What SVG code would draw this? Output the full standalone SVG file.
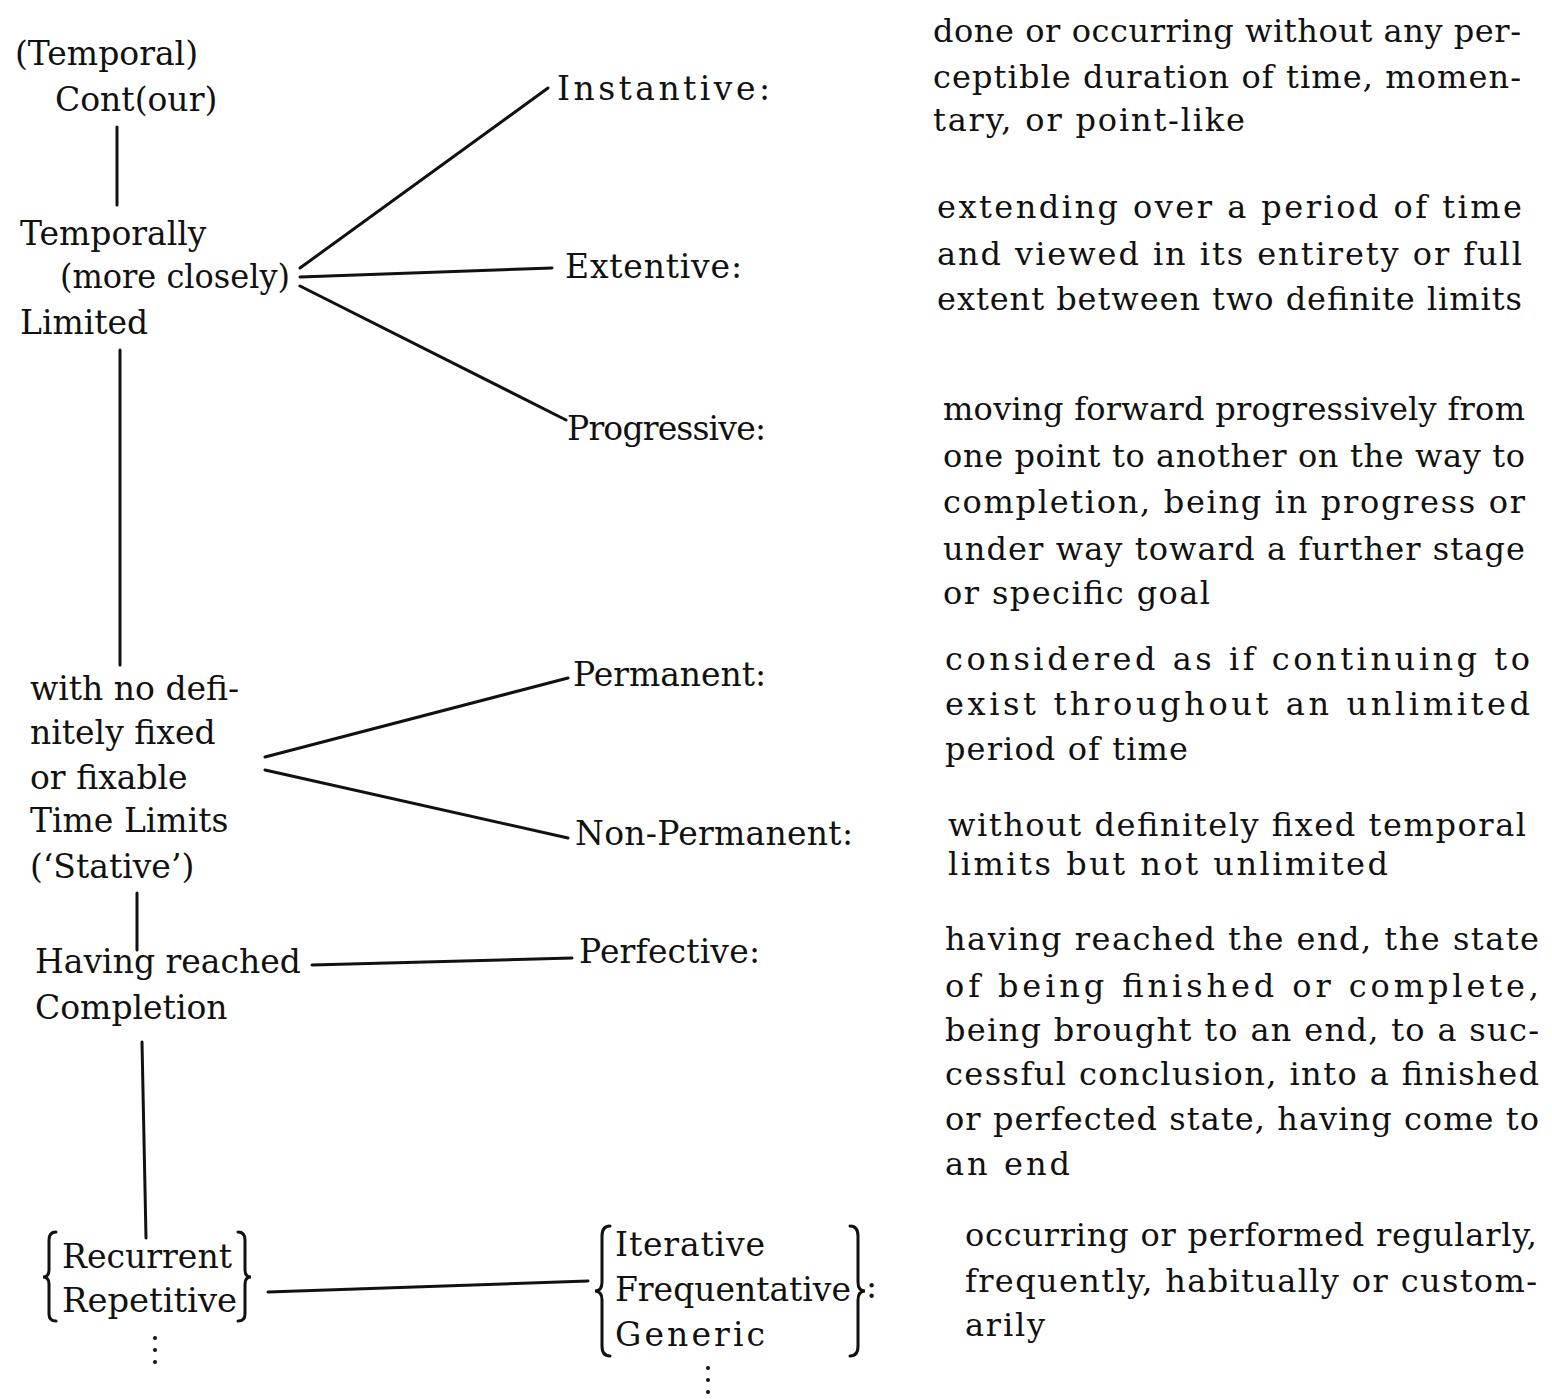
<svg xmlns="http://www.w3.org/2000/svg" width="1552" height="1399" viewBox="0 0 1552 1399">
<style>
text{font-family:"DejaVu Serif","Liberation Serif",serif;font-size:33px;fill:#111}
.c line,.c path{stroke:#111;stroke-width:3;fill:none;stroke-linecap:round}
.d text{font-size:32px}
.dot{fill:#111}
</style>
<rect width="1552" height="1399" fill="#fff"/>
<g class="c" id="connectors">
<line x1="117" y1="127" x2="117" y2="205"/>
<line x1="120" y1="350" x2="120" y2="665"/>
<line x1="137" y1="893" x2="137" y2="950"/>
<line x1="142" y1="1042" x2="146" y2="1238"/>
<line x1="300" y1="268" x2="548" y2="88"/>
<line x1="300" y1="277" x2="552" y2="268"/>
<line x1="300" y1="286" x2="566" y2="420"/>
<line x1="265" y1="757" x2="568" y2="678"/>
<line x1="265" y1="770" x2="568" y2="838"/>
<line x1="312" y1="965" x2="572" y2="958"/>
<line x1="268" y1="1292" x2="588" y2="1281"/>
</g>
<g id="n-contour">
<text x="15" y="65">(Temporal)</text>
<text x="55" y="111">Cont(our)</text>
</g>
<g id="n-limited">
<text x="20" y="245">Temporally</text>
<text x="60" y="288" textLength="230" lengthAdjust="spacingAndGlyphs">(more closely)</text>
<text x="20" y="334">Limited</text>
</g>
<g id="n-stative">
<text x="30" y="700">with no defi-</text>
<text x="30" y="744">nitely fixed</text>
<text x="30" y="789">or fixable</text>
<text x="30" y="832">Time Limits</text>
<text x="30" y="878">(‘Stative’)</text>
</g>
<g id="n-completion">
<text x="35" y="973">Having reached</text>
<text x="35" y="1019">Completion</text>
</g>
<g id="n-recurrent" class="c">
<path d="M56,1232 Q49,1232 49,1240 L49,1270 Q49,1277 43,1277 Q49,1277 49,1284 L49,1314 Q49,1321 56,1321"/>
<path d="M238,1232 Q245,1232 245,1240 L245,1270 Q245,1277 251,1277 Q245,1277 245,1284 L245,1314 Q245,1321 238,1321"/>
<text x="62" y="1268" style="stroke:none" textLength="170" lengthAdjust="spacingAndGlyphs">Recurrent</text>
<text x="62" y="1312" style="stroke:none" textLength="175" lengthAdjust="spacingAndGlyphs">Repetitive</text>
<circle class="dot" cx="155" cy="1338" r="2" style="stroke:none"/>
<circle class="dot" cx="155" cy="1350" r="2" style="stroke:none"/>
<circle class="dot" cx="155" cy="1362" r="2" style="stroke:none"/>
</g>
<g id="n-instantive"><text x="557" y="100" textLength="213" lengthAdjust="spacing">Instantive:</text></g>
<g id="n-extentive"><text x="565" y="278" textLength="177" lengthAdjust="spacing">Extentive:</text></g>
<g id="n-progressive"><text x="567" y="440" textLength="199" lengthAdjust="spacing">Progressive:</text></g>
<g id="n-permanent"><text x="573" y="686" textLength="193" lengthAdjust="spacing">Permanent:</text></g>
<g id="n-nonpermanent"><text x="575" y="845" textLength="278" lengthAdjust="spacing">Non-Permanent:</text></g>
<g id="n-perfective"><text x="579" y="963" textLength="181" lengthAdjust="spacing">Perfective:</text></g>
<g id="n-iterative" class="c">
<path d="M610,1226 Q602,1226 602,1236 L602,1282 Q602,1291 595,1291 Q602,1291 602,1300 L602,1346 Q602,1356 610,1356"/>
<path d="M850,1226 Q858,1226 858,1236 L858,1282 Q858,1291 865,1291 Q858,1291 858,1300 L858,1346 Q858,1356 850,1356"/>
<text x="615" y="1256" style="stroke:none" textLength="150" lengthAdjust="spacing">Iterative</text>
<text x="615" y="1301" style="stroke:none" textLength="236" lengthAdjust="spacingAndGlyphs">Frequentative</text>
<text x="615" y="1346" style="stroke:none" textLength="150" lengthAdjust="spacing">Generic</text>
<text x="866" y="1298" style="stroke:none">:</text>
<circle class="dot" cx="708" cy="1368" r="2" style="stroke:none"/>
<circle class="dot" cx="708" cy="1380" r="2" style="stroke:none"/>
<circle class="dot" cx="708" cy="1392" r="2" style="stroke:none"/>
</g>
<g id="d-instantive" class="d">
<text x="933" y="42" textLength="588" lengthAdjust="spacing">done or occurring without any per-</text>
<text x="933" y="88" textLength="588" lengthAdjust="spacing">ceptible duration of time, momen-</text>
<text x="933" y="131" textLength="312" lengthAdjust="spacing">tary, or point-like</text>
</g>
<g id="d-extentive" class="d">
<text x="937" y="218" textLength="585" lengthAdjust="spacing">extending over a period of time</text>
<text x="937" y="265" textLength="585" lengthAdjust="spacing">and viewed in its entirety or full</text>
<text x="937" y="310" textLength="585" lengthAdjust="spacing">extent between two definite limits</text>
</g>
<g id="d-progressive" class="d">
<text x="943" y="420" textLength="582" lengthAdjust="spacing">moving forward progressively from</text>
<text x="943" y="467" textLength="582" lengthAdjust="spacing">one point to another on the way to</text>
<text x="943" y="513" textLength="582" lengthAdjust="spacing">completion, being in progress or</text>
<text x="943" y="560" textLength="582" lengthAdjust="spacing">under way toward a further stage</text>
<text x="943" y="604" textLength="267" lengthAdjust="spacing">or specific goal</text>
</g>
<g id="d-permanent" class="d">
<text x="945" y="670" textLength="585" lengthAdjust="spacing">considered as if continuing to</text>
<text x="945" y="715" textLength="585" lengthAdjust="spacing">exist throughout an unlimited</text>
<text x="945" y="760" textLength="243" lengthAdjust="spacing">period of time</text>
</g>
<g id="d-nonpermanent" class="d">
<text x="948" y="836" textLength="578" lengthAdjust="spacing">without definitely fixed temporal</text>
<text x="948" y="875" textLength="440" lengthAdjust="spacing">limits but not unlimited</text>
</g>
<g id="d-perfective" class="d">
<text x="945" y="950" textLength="594" lengthAdjust="spacing">having reached the end, the state</text>
<text x="945" y="997" textLength="594" lengthAdjust="spacing">of being finished or complete,</text>
<text x="945" y="1041" textLength="594" lengthAdjust="spacing">being brought to an end, to a suc-</text>
<text x="945" y="1085" textLength="594" lengthAdjust="spacing">cessful conclusion, into a finished</text>
<text x="945" y="1130" textLength="594" lengthAdjust="spacing">or perfected state, having come to</text>
<text x="945" y="1175" textLength="125" lengthAdjust="spacing">an end</text>
</g>
<g id="d-iterative" class="d">
<text x="965" y="1246" textLength="572" lengthAdjust="spacing">occurring or performed regularly,</text>
<text x="965" y="1292" textLength="572" lengthAdjust="spacing">frequently, habitually or custom-</text>
<text x="965" y="1336" textLength="80" lengthAdjust="spacing">arily</text>
</g>
</svg>
